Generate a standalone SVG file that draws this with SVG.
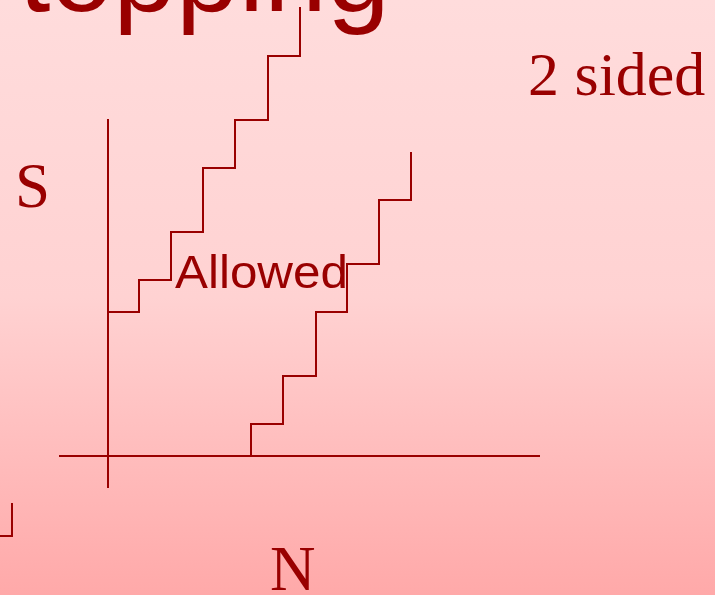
<svg xmlns="http://www.w3.org/2000/svg" width="715" height="595" viewBox="0 0 715 595">
  <defs>
    <linearGradient id="bg" x1="0" y1="0" x2="0" y2="1">
      <stop offset="0" stop-color="#ffdcdc"/>
      <stop offset="0.5" stop-color="#ffd2d2"/>
      <stop offset="1" stop-color="#ffa9a9"/>
    </linearGradient>
    <style>
      .ln { fill: none; stroke: #990000; stroke-width: 2; }
      .sans { font-family: "Liberation Sans", Arial, sans-serif; fill: #990000; }
      .serif { font-family: "Liberation Serif", "Times New Roman", serif; fill: #990000; }
    </style>
  </defs>

  <rect x="0" y="0" width="715" height="595" fill="url(#bg)"/>

  <!-- heading, partly above the top edge -->
  <text class="sans" x="19" y="11" font-size="113">topping</text>

  <text id="label-2sided" class="serif" x="528" y="95" font-size="62">2 sided</text>

  <!-- axes and step paths -->
  <g id="connectors">
    <line class="ln" x1="108" y1="119" x2="108" y2="488"/>
    <line class="ln" x1="59" y1="456" x2="540" y2="456"/>
    <path class="ln" d="M108,312 H139 V280 H171 V232 H203 V168 H235 V120 H268 V56 H300 V7"/>
    <path class="ln" d="M220,456 H251 V424 H283 V376 H316 V312 H347 V264 H379 V200 H411 V152"/>
    <path class="ln" stroke-width="2.5" d="M0,536 H12 V503"/>
  </g>

  <g id="axis-s">
    <text class="serif" x="15" y="207" font-size="63">S</text>
  </g>
  <g id="axis-n">
    <text class="serif" x="270" y="590" font-size="63">N</text>
  </g>
  <g id="region-allowed">
    <text class="sans" x="175" y="288" font-size="47" textLength="173" lengthAdjust="spacingAndGlyphs">Allowed</text>
  </g>
</svg>
